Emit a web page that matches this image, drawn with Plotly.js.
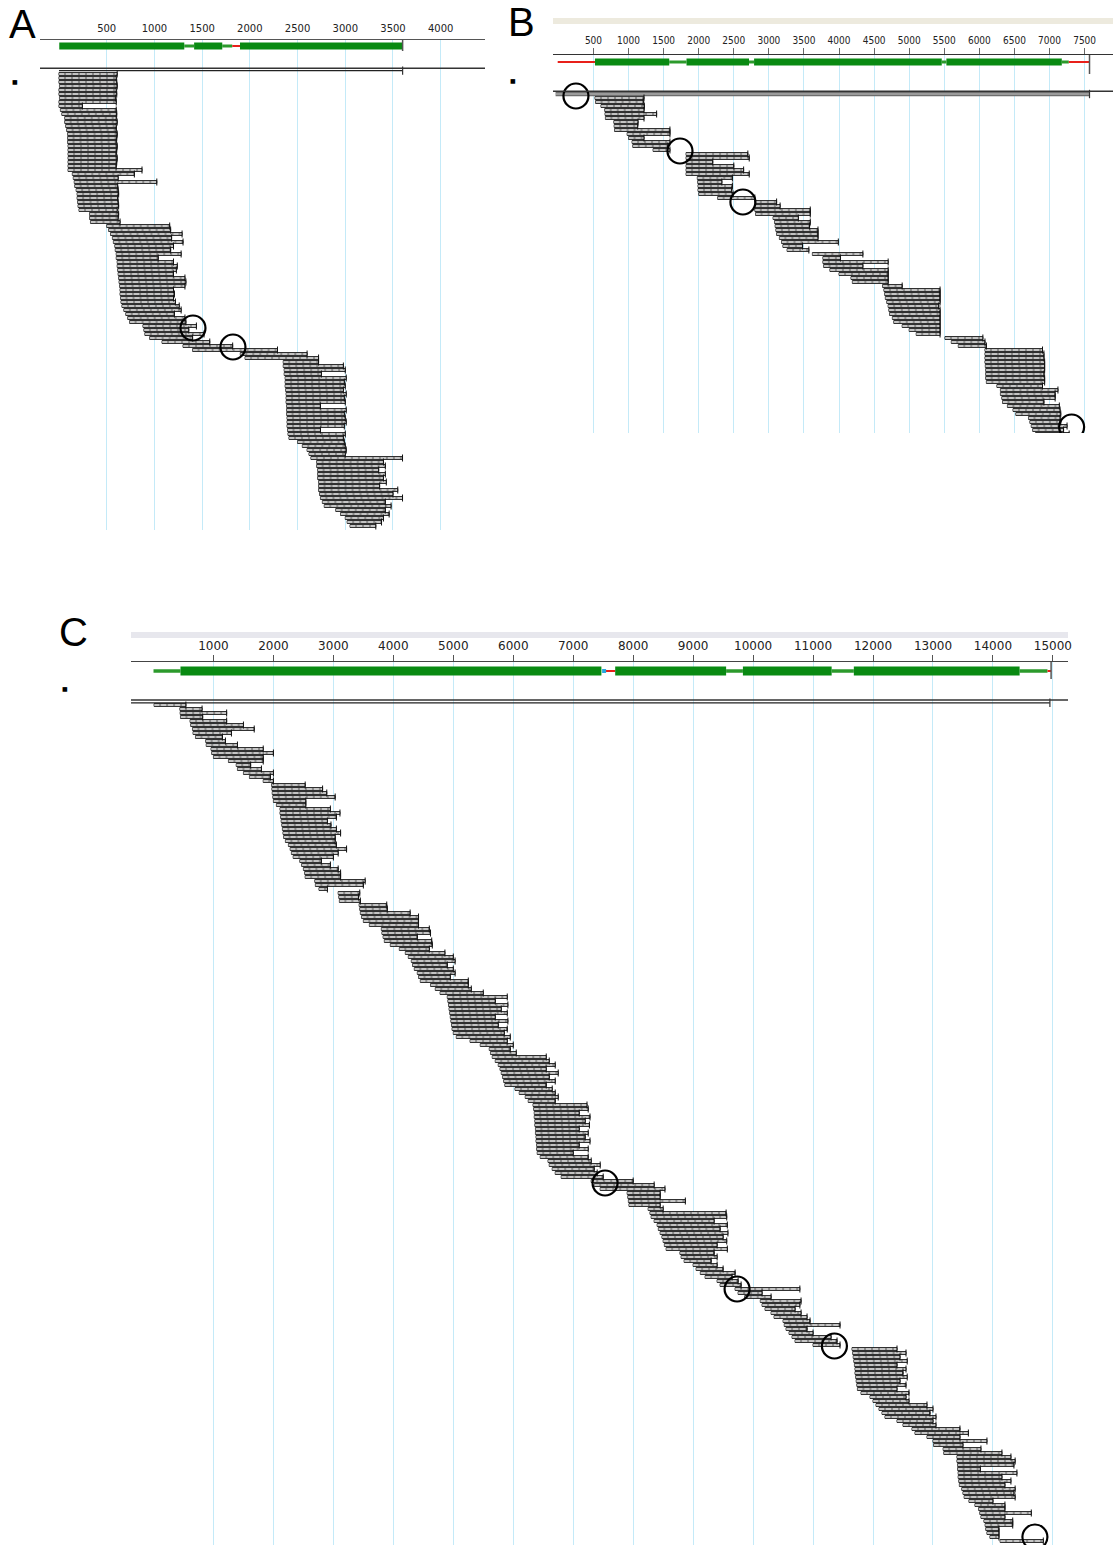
<!DOCTYPE html>
<html><head><meta charset="utf-8">
<script src="https://cdn.plot.ly/plotly-3.0.1.min.js"></script>
<style>html,body{margin:0;padding:0;background:#fff}#chart{width:1113px;height:1549px}</style>
</head><body><div id="chart"></div>
<script>
// ================= DATA =================
const ticksA = [500,1000,1500,2000,2500,3000,3500,4000];
const ticksB = [500,1000,1500,2000,2500,3000,3500,4000,4500,5000,5500,6000,6500,7000,7500];
const ticksC = [1000,2000,3000,4000,5000,6000,7000,8000,9000,10000,11000,12000,13000,14000,15000];

// gene models (bp)
const exonStartA = [3,1416,1897];       const exonEndA = [1313,1711,3601];
const linkStartA = [1313,1711];         const linkEndA = [1416,1816];
const utrStartA  = [1816];              const utrEndA  = [1897];
const geneEndA = 3601;

const exonStartB = [521,1826,2789,5530]; const exonEndB = [1580,2717,5464,7175];
const linkStartB = [1580,2717,5464,7175]; const linkEndB = [1826,2789,5530,7275];
const utrStartB  = [-10,7275];           const utrEndB  = [521,7570];
const geneEndB = 7570;

const exonStartC = [450,7700,9830,11680]; const exonEndC = [7470,9550,11310,14445];
const linkStartC = [0,9550,11310,14445];  const linkEndC = [450,9830,11680,14910];
const utrStartC  = [7535,14910];          const utrEndC  = [7700,14970];
const markC = [7515];
const geneEndC = 14970;

// reference (full-length) reads
const refA = [0,3601];
const refB = [-40,7570];
const refC = [-375,14950];

// reads, panel A (start / end in bp, in display order)
const readStartA = [0,0,0,5,0,0,5,0,0,15,30,60,60,70,80,90,90,90,95,95,95,95,95,95,95,140,150,160,165,180,190,190,195,200,210,320,320,330,
 500,520,540,560,570,585,590,600,600,610,610,615,620,625,630,635,640,640,645,650,660,680,700,720,740,880,890,900,950,1080,1300,1400,1900,1950,
 2350,2350,2360,2360,2370,2370,2370,2375,2380,2380,2380,2385,2385,2385,2390,2390,2390,2395,2400,2410,2500,2550,2600,2620,2640,
 2700,2700,2710,2710,2710,2720,2720,2720,2730,2740,2760,2780,2900,2950,3000,3020,3050];
const readEndA = [610,600,605,610,600,605,595,600,245,600,605,600,610,600,600,610,605,600,610,605,600,610,605,600,870,790,620,1025,615,620,625,615,620,625,610,625,620,640,
 1160,1170,1290,1180,1300,1200,1170,1280,1040,1200,1240,1230,1200,1320,1330,1320,1200,1210,1200,1220,1260,1280,1210,1320,1330,1440,1360,1520,1400,1580,1820,2290,2600,2720,
 2720,2980,3000,2750,3010,2990,3000,2980,3010,2990,3000,2740,3010,2990,3000,3010,2990,2740,3000,2980,2990,3000,3010,3000,3600,
 3400,3420,3350,3420,3400,3430,3360,3550,3500,3600,3420,3480,3420,3460,3400,3380,3320];

// reads, panel B
const readStartB = [522,530,607,660,665,670,790,795,800,980,1000,1050,1060,1350,
 1820,1820,1820,1820,1820,1820,1980,1985,1990,1990,2000,2270,2800,2800,2800,2810,
 3060,3080,3090,3100,3110,3150,3180,3200,3260,3620,3770,3770,3780,3870,4000,4170,4190,
 4620,4640,4650,4660,4680,4700,4710,4720,4760,4780,4900,5000,5100,5510,5600,5700,
 6080,6080,6080,6080,6085,6090,6090,6090,6100,6250,6300,6300,6320,6330,6400,6480,6520,6700,6720,6740,6760,6800];
const readEndB = [1220,1210,1225,1220,1400,1220,1135,1130,1590,1590,1220,1590,1560,1590,
 2700,2720,2200,2500,2640,2720,2480,2330,2480,2470,2490,2800,3110,3160,3590,3590,
 3420,3590,3580,3700,3700,3700,3990,3480,3570,4340,4020,4700,4340,4700,4700,4700,4700,
 4900,5440,5440,5440,5440,5420,5440,5440,5440,5440,5440,5440,5440,6050,6080,6100,
 6900,6920,6920,6930,6930,6930,6920,6930,6930,6900,7120,7080,7080,6920,7140,7150,7160,7150,7160,7250,7200,7280];

// reads, panel C
const readStartC = [10,440,445,450,610,620,650,660,700,870,880,960,970,1000,1250,1380,1400,1500,1600,1830,
 1970,1975,1980,1990,2000,2050,2110,2110,2120,2130,2140,2150,2160,2170,2200,2250,2280,2300,2330,2440,2470,2500,2520,2530,
 2690,2700,2760,3080,3090,3100,3430,3440,3450,3470,3500,3600,3800,3810,3830,3850,3950,4100,4200,4250,4300,4320,4350,4400,4420,4450,
 4620,4700,4780,4900,4910,4920,4930,4940,4950,4960,4970,4980,5000,5050,5280,5450,5600,5620,5650,5700,5750,5780,5800,5820,5840,5860,
 6030,6100,6200,6250,6330,6340,6350,6350,6360,6360,6370,6370,6380,6380,6390,6390,6400,6450,6580,6600,6650,6700,6800,
 7300,7350,7450,7900,7910,7920,7930,8250,8280,8300,8350,8400,8420,8450,8480,8500,8520,8550,8780,8800,8850,9000,9050,9120,9200,9400,9450,
 9700,9750,9860,10120,10150,10200,10300,10350,10500,10520,10550,10600,10650,10700,11000,
 11650,11660,11670,11680,11690,11700,11700,11710,11720,11730,11740,11800,11950,12000,12050,12100,12150,12200,12400,12500,12650,12700,12900,
 13000,13010,13170,13180,13400,13400,13410,13410,13420,13420,13430,13440,13480,13500,13520,13600,13700,13760,13780,13800,13850,13870,13880,13900,13950,14120];
const readEndC = [540,810,1220,820,1220,1500,1680,1300,1150,1200,1400,1830,2000,1830,1830,1620,1800,2000,1950,2000,
 2530,2820,2890,3030,2540,2540,2950,3110,3050,2900,2960,3050,3120,3030,3030,3050,3220,3080,3000,2800,2950,3080,3120,3120,
 3530,3500,2900,3440,3420,3450,3890,3900,4280,4420,4420,4420,4600,4620,4400,4640,4650,4600,4860,5000,5030,4900,5000,5030,4950,5250,
 5250,5300,5500,5900,5700,5910,5800,5900,5700,5910,5750,5900,5850,5950,5900,6000,5950,6050,6550,6600,6700,6550,6750,6600,6700,6550,
 6650,6700,6750,6700,7230,7250,7100,7280,7200,7270,7100,7250,7200,7280,7100,7250,7000,7250,7300,7450,7350,7400,7500,
 8000,8350,8530,8450,8450,8870,8450,8500,9550,9560,9350,9570,9450,9580,9500,9560,9400,9570,9350,9400,9300,9400,9500,9700,9650,9750,9800,
 10780,10150,10300,10800,10780,10700,10800,10900,10950,11450,10900,11000,11300,11400,11450,
 12400,12550,12450,12570,12400,12550,12500,12570,12450,12550,12400,12600,12550,12600,12900,13000,12950,13050,13000,13050,13450,13590,13450,
 13900,13500,13800,14150,14300,14370,14350,13790,14400,14150,14300,14200,14370,14350,14370,14000,14200,14200,14640,14200,14330,14330,14100,14100,14100,14840];

// highlighted positions (bp, read rank)
const circleBpA = [1404,1823];           const circleRowA = [63.5,68.25];
const circleBpB = [250,1733,2630,7315];  const circleRowB = [-0.5,13.25,26,82.25];
const circleBpC = [7531,9733,11356,14700]; const circleRowC = [119.5,146,160.25,208];

// ================= LAYOUT / DRAWING =================
const W = 1113, H = 1549;
const GREEN = '#098a12', GREEN_THIN = '#2c9a2c', GRID = 'rgb(196,234,248)';

const panels = [
  {label:'A', labelX:22, labelY:24, dotX:15, dotY:82,
   left:40, right:485, top:40, bottom:530, firstRow:74, lastRow:526, x0px:58.98, pxPerBp:0.09543,
   geneY:46, geneH:7, linkH:3, endTop:40, endBot:51, sepY:68.3, refY:70.6, refStyle:'thin',
   tickFont:{family:'DejaVu Sans', size:10, color:'#222'}, ticklen:3, tickcolor:'rgba(0,0,0,0)', lineColor:'#555',
   topBar:null,
   d:{ticks:ticksA, exS:exonStartA, exE:exonEndA, lkS:linkStartA, lkE:linkEndA, utS:utrStartA, utE:utrEndA, mark:[], geneEnd:geneEndA, ref:refA,
      start:readStartA, end:readEndA, cBp:circleBpA, cRow:circleRowA}},
  {label:'B', labelX:521, labelY:22, dotX:513, dotY:80,
   left:553, right:1113, top:55, bottom:433, firstRow:98, lastRow:434, x0px:558.4, pxPerBp:0.07016,
   geneY:62, geneH:7, linkH:3, endTop:55, endBot:74, sepY:91.3, refY:94, refStyle:'grey',
   tickFont:{family:'DejaVu Sans Condensed, DejaVu Sans', size:10, color:'#222'}, ticklen:6, tickcolor:'#666', lineColor:'#333',
   topBar:{y0:18, y1:24, color:'rgb(237,234,222)'},
   d:{ticks:ticksB, exS:exonStartB, exE:exonEndB, lkS:linkStartB, lkE:linkEndB, utS:utrStartB, utE:utrEndB, mark:[], geneEnd:geneEndB, ref:refB,
      start:readStartB, end:readEndB, cBp:circleBpB, cRow:circleRowB}},
  {label:'C', labelX:73, labelY:632, dotX:65, dotY:688,
   left:131, right:1068, top:662, bottom:1545, firstRow:705, lastRow:1541, x0px:153.5, pxPerBp:0.05996,
   geneY:671, geneH:9, linkH:3.5, endTop:662, endBot:679, sepY:700, refY:702.8, refStyle:'thin',
   tickFont:{family:'DejaVu Sans', size:12, color:'#222'}, ticklen:6, tickcolor:'#555', lineColor:'#444',
   topBar:{y0:632, y1:638, color:'rgb(231,231,237)'},
   d:{ticks:ticksC, exS:exonStartC, exE:exonEndC, lkS:linkStartC, lkE:linkEndC, utS:utrStartC, utE:utrEndC, mark:markC, geneEnd:geneEndC, ref:refC,
      start:readStartC, end:readEndC, cBp:circleBpC, cRow:circleRowC}}
];

const traces = [];
const layout = {width:W, height:H, margin:{l:0,r:0,t:0,b:0}, showlegend:false,
  paper_bgcolor:'#fff', plot_bgcolor:'rgba(0,0,0,0)', shapes:[], annotations:[], bargap:0};

function segs(s, e, y) {
  const xs = [], ys = [];
  for (let i = 0; i < s.length; i++) { xs.push(s[i], e[i], null); ys.push(y, y, null); }
  return {x:xs, y:ys};
}

panels.forEach((p, k) => {
  const sfx = k === 0 ? '' : String(k + 1);
  const xa = 'x' + sfx, ya = 'y' + sfx;
  const d = p.d;
  const n = d.start.length;
  const pitch = (p.lastRow - p.firstRow) / (n - 1);
  const idx = px => (px - p.firstRow) / pitch;
  const common = {xaxis:xa, yaxis:ya, hoverinfo:'skip'};

  // axes
  layout['xaxis' + sfx] = {
    domain:[p.left / W, p.right / W], anchor:ya, side:'top',
    range:[(p.left - p.x0px) / p.pxPerBp, (p.right - p.x0px) / p.pxPerBp],
    tickmode:'array', tickvals:d.ticks, ticktext:d.ticks.map(String),
    ticks:'outside', ticklen:p.ticklen, tickcolor:p.tickcolor, tickwidth:1,
    tickfont:p.tickFont, showgrid:true, gridcolor:GRID, gridwidth:1,
    showline:true, linecolor:p.lineColor, linewidth:1.3, zeroline:false, fixedrange:true
  };
  layout['yaxis' + sfx] = {
    domain:[1 - p.bottom / H, 1 - p.top / H], anchor:xa,
    range:[idx(p.bottom), idx(p.top)], visible:false, fixedrange:true
  };

  // gene model
  const gy = idx(p.geneY);
  let g = segs(d.lkS, d.lkE, gy);
  traces.push(Object.assign({type:'scatter', mode:'lines', x:g.x, y:g.y, line:{color:GREEN_THIN, width:p.linkH}}, common));
  g = segs(d.utS, d.utE, gy);
  traces.push(Object.assign({type:'scatter', mode:'lines', x:g.x, y:g.y, line:{color:'#e8201a', width:2}}, common));
  g = segs(d.exS, d.exE, gy);
  traces.push(Object.assign({type:'scatter', mode:'lines', x:g.x, y:g.y, line:{color:GREEN, width:p.geneH}}, common));
  if (d.mark.length) {
    traces.push(Object.assign({type:'scatter', mode:'markers', x:d.mark, y:d.mark.map(() => gy),
      marker:{symbol:'square', size:4, color:'#29a8e0'}}, common));
  }
  layout.shapes.push({type:'line', xref:xa, yref:'paper', x0:d.geneEnd, x1:d.geneEnd,
    y0:1 - p.endTop / H, y1:1 - p.endBot / H, line:{color:'#555', width:1.5}});

  // top decorative bar + separator
  if (p.topBar) {
    layout.shapes.push({type:'rect', xref:'paper', yref:'paper', x0:p.left / W, x1:p.right / W,
      y0:1 - p.topBar.y1 / H, y1:1 - p.topBar.y0 / H, fillcolor:p.topBar.color, line:{width:0}, layer:'below'});
  }
  layout.shapes.push({type:'line', xref:'paper', yref:'paper', x0:p.left / W, x1:p.right / W,
    y0:1 - p.sepY / H, y1:1 - p.sepY / H, line:{color:'#333', width:1.4}});

  // reference read
  const ry = idx(p.refY);
  if (p.refStyle === 'grey') {
    traces.push(Object.assign({type:'scatter', mode:'lines', x:d.ref, y:[ry, ry], line:{color:'rgb(110,110,110)', width:4.5}}, common));
    traces.push(Object.assign({type:'scatter', mode:'lines', x:d.ref, y:[ry, ry], line:{color:'rgb(200,200,200)', width:1.2}}, common));
  } else {
    traces.push(Object.assign({type:'scatter', mode:'lines', x:d.ref, y:[ry, ry], line:{color:'#222', width:1.2}}, common));
  }
  traces.push(Object.assign({type:'scatter', mode:'markers', x:[d.ref[1]], y:[ry],
    marker:{symbol:'line-ns', size:6, line:{color:'#333', width:1.2}}}, common));

  // reads: outlined grey boxes
  const rows = d.start.map((_, i) => i);
  traces.push(Object.assign({type:'bar', orientation:'h', base:d.start,
    x:d.start.map((s, i) => d.end[i] - s), y:rows, width:0.7,
    marker:{color:'rgb(150,150,150)', line:{color:'#000', width:0.85}}}, common));
  // dashed centre line of each read
  const dx = [], dy = [];
  for (let i = 0; i < n; i++) { dx.push(d.start[i], d.end[i], null); dy.push(i, i, null); }
  traces.push(Object.assign({type:'scatter', mode:'lines', x:dx, y:dy,
    line:{color:'#ffffff', width:1, dash:'5px,2px'}}, common));
  // end ticks
  traces.push(Object.assign({type:'scatter', mode:'markers', x:d.end, y:rows,
    marker:{symbol:'line-ns', size:5, line:{color:'#111', width:1}}}, common));

  // circles
  traces.push(Object.assign({type:'scatter', mode:'markers', x:d.cBp, y:d.cRow,
    marker:{symbol:'circle-open', size:25, color:'#000', line:{color:'#000', width:2.2}}}, common));

  // panel letter + dot
  layout.annotations.push({xref:'paper', yref:'paper', x:p.labelX / W, y:1 - p.labelY / H,
    xanchor:'center', yanchor:'middle', text:p.label, showarrow:false,
    font:{family:'Liberation Sans, Arial, sans-serif', size:40, color:'#000'}});
  layout.annotations.push({xref:'paper', yref:'paper', x:p.dotX / W, y:1 - p.dotY / H,
    xanchor:'center', yanchor:'middle', text:'■', showarrow:false,
    font:{family:'DejaVu Sans', size:6, color:'#000'}});
});

Plotly.newPlot('chart', traces, layout, {staticPlot:true, displayModeBar:false});
</script>
</body></html>
